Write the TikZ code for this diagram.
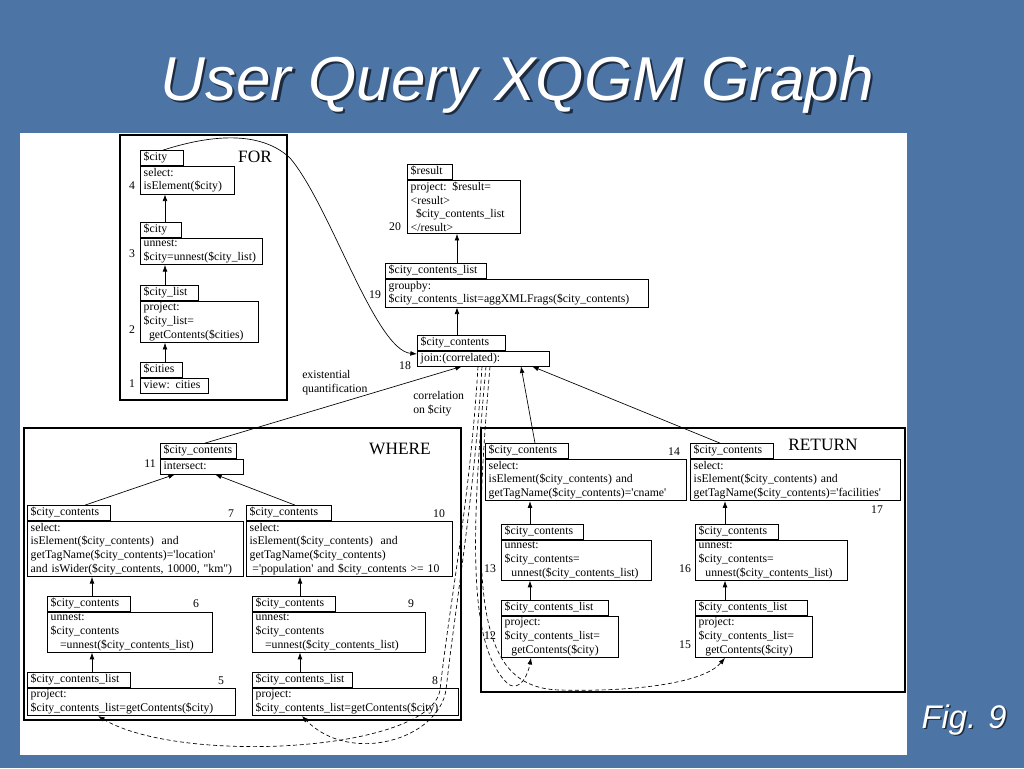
\documentclass[tikz,border=0pt]{standalone}
\usepackage{fontspec}
\setmainfont{Liberation Serif}
\newfontfamily\slidefont{Liberation Sans}
\usetikzlibrary{arrows.meta, positioning, calc}
\definecolor{SlideBlue}{HTML}{4C74A4}
\definecolor{TitleShadow}{HTML}{1C2B40}
\tikzset{
  % Box styles
  opbody/.style={rectangle, draw, line width=0.6pt, anchor=north west, align=left, inner xsep=2.5pt, inner ysep=1.2pt, font=\fontsize{8.8}{10.3}\selectfont},
  optab/.style={rectangle, draw, line width=0.6pt, align=left, inner xsep=2.5pt, inner ysep=1.4pt, text height=6.3pt, text depth=2.2pt, font=\fontsize{8.8}{10.3}\selectfont},
  oneline/.style={text height=6.3pt, text depth=2.2pt},
  framebox/.style={draw, line width=1.4pt},
  % Text styles
  num/.style={inner sep=0pt, font=\fontsize{8.8}{10.3}\selectfont},
  clause/.style={inner sep=0pt, font=\fontsize{13}{15}\selectfont},
  note/.style={inner sep=0pt, anchor=west, align=left, font=\fontsize{8.8}{10.3}\selectfont},
  % Arrow styles
  arr/.style={-{Latex[length=5pt,width=3.6pt]}, line width=0.5pt},
  corr/.style={arr, dashed, dash pattern=on 3pt off 2pt}
}

\begin{document}
\begin{tikzpicture}[x=0.75pt, y=-0.75pt]
  \useasboundingbox (0,0) rectangle (1024,768);
  \fill[SlideBlue] (0,0) rectangle (1024,768);
  \fill[white] (20,133) rectangle (907,755);

  % Title
  \node[anchor=base, text=TitleShadow, font=\slidefont\itshape\fontsize{46.5}{50}\selectfont] (titleshadow) at (519.5,102.5) {User Query XQGM Graph};
  \node[anchor=base, text=white, font=\slidefont\itshape\fontsize{46.5}{50}\selectfont] (title) at (517,100) {User Query XQGM Graph};
  \node[anchor=base west, text=TitleShadow, font=\slidefont\itshape\fontsize{24.5}{28}\selectfont] (figshadow) at (918.5,729.5) {Fig. 9};
  \node[anchor=base west, text=white, font=\slidefont\itshape\fontsize{24.5}{28}\selectfont] (fig) at (917,728) {Fig. 9};

  % Clause frames
  \draw[framebox] (120,135) rectangle (287,400);
  \draw[framebox] (24,428) rectangle (461,720);
  \draw[framebox] (481,428) rectangle (905,692);
  \node[clause] (for) at (255,157) {FOR};
  \node[clause] (where) at (400,449) {WHERE};
  \node[clause] (return) at (823,445) {RETURN};

  % FOR boxes
  \node[opbody, text width=65.5pt] (b4) at (140,166) {select:\\isElement(\$city)};
  \node[optab, text width=27.25pt, above right=0pt of b4.north west] (t4) {\$city};
  \node[opbody, text width=86.5pt] (b3) at (140,238) {unnest:\\\$city=unnest(\$city\_list)};
  \node[optab, text width=25.75pt, above right=0pt of b3.north west] (t3) {\$city};
  \node[opbody, text width=83.5pt] (b2) at (140,301) {project:\\\$city\_list=\\\hspace*{4pt}getContents(\$cities)};
  \node[optab, text width=38.5pt, above right=0pt of b2.north west] (t2) {\$city\_list};
  \node[opbody, oneline, text width=46pt] (b1) at (140,378) {view: cities};
  \node[optab, text width=26.5pt, above right=0pt of b1.north west] (t1) {\$cities};

  % Top boxes
  \node[opbody, text width=79.75pt] (b20) at (407,180) {project: \$result=\\<result>\\\hspace*{4pt}\$city\_contents\_list\\</result>};
  \node[optab, text width=28.75pt, above right=0pt of b20.north west] (t20) {\$result};
  \node[opbody, text width=192.25pt] (b19) at (385,279) {groupby:\\\$city\_contents\_list=aggXMLFrags(\$city\_contents)};
  \node[optab, text width=70.75pt, above right=0pt of b19.north west] (t19) {\$city\_contents\_list};
  \node[opbody, oneline, text width=94pt] (b18) at (417,351) {join:(correlated):};
  \node[optab, text width=61pt, above right=0pt of b18.north west] (t18) {\$city\_contents};

  % WHERE boxes
  \node[opbody, oneline, text width=57.25pt] (b11) at (160,459) {intersect:};
  \node[optab, text width=52pt, above right=0pt of b11.north west] (t11) {\$city\_contents};
  \node[opbody, text width=157pt] (b7) at (27,521) {select:\\isElement(\$city\_contents)~ and\\getTagName(\$city\_contents)=\textquotesingle location\textquotesingle\\and isWider(\$city\_contents, 10000, \textquotedbl km\textquotedbl)};
  \node[optab, text width=57.25pt, above right=0pt of b7.north west] (t7) {\$city\_contents};
  \node[opbody, text width=118.75pt] (b6) at (47,612) {unnest:\\\$city\_contents\\\hspace*{7pt}=unnest(\$city\_contents\_list)};
  \node[optab, text width=57.25pt, above right=0pt of b6.north west] (t6) {\$city\_contents};
  \node[opbody, text width=151pt] (b5) at (27,688) {project:\\\$city\_contents\_list=getContents(\$city)};
  \node[optab, text width=72.25pt, above right=0pt of b5.north west] (t5) {\$city\_contents\_list};
  \node[opbody, text width=149.5pt] (b10) at (246,521) {select:\\isElement(\$city\_contents)~ and\\getTagName(\$city\_contents)\\\hspace*{2pt}=\textquotesingle population\textquotesingle{} and \$city\_contents >= 10};
  \node[optab, text width=58.75pt, above right=0pt of b10.north west] (t10) {\$city\_contents};
  \node[opbody, text width=124.75pt] (b9) at (252,612) {unnest:\\\$city\_contents\\\hspace*{7pt}=unnest(\$city\_contents\_list)};
  \node[optab, text width=57.25pt, above right=0pt of b9.north west] (t9) {\$city\_contents};
  \node[opbody, text width=149.5pt] (b8) at (252,688) {project:\\\$city\_contents\_list=getContents(\$city)};
  \node[optab, text width=70pt, above right=0pt of b8.north west] (t8) {\$city\_contents\_list};

  % RETURN boxes
  \node[opbody, text width=145.75pt] (b14) at (485,459) {select:\\isElement(\$city\_contents) and\\getTagName(\$city\_contents)=\textquotesingle cname\textquotesingle};
  \node[optab, text width=57.25pt, above right=0pt of b14.north west] (t14) {\$city\_contents};
  \node[opbody, text width=107.5pt] (b13) at (501,540) {unnest:\\\$city\_contents=\\\hspace*{5pt}unnest(\$city\_contents\_list)};
  \node[optab, text width=56.5pt, above right=0pt of b13.north west] (t13) {\$city\_contents};
  \node[opbody, text width=82.75pt] (b12) at (501,616) {project:\\\$city\_contents\_list=\\\hspace*{5pt}getContents(\$city)};
  \node[optab, text width=75.25pt, above right=0pt of b12.north west] (t12) {\$city\_contents\_list};
  \node[opbody, text width=152.5pt] (b17) at (690,459) {select:\\isElement(\$city\_contents) and\\getTagName(\$city\_contents)=\textquotesingle facilities\textquotesingle};
  \node[optab, text width=57.25pt, above right=0pt of b17.north west] (t17) {\$city\_contents};
  \node[opbody, text width=109pt] (b16) at (695,540) {unnest:\\\$city\_contents=\\\hspace*{5pt}unnest(\$city\_contents\_list)};
  \node[optab, text width=57.25pt, above right=0pt of b16.north west] (t16) {\$city\_contents};
  \node[opbody, text width=82.75pt] (b15) at (695,616) {project:\\\$city\_contents\_list=\\\hspace*{5pt}getContents(\$city)};
  \node[optab, text width=79pt, above right=0pt of b15.north west] (t15) {\$city\_contents\_list};

  % Box numbers
  \node[num] (n1) at (132,384) {1};
  \node[num] (n2) at (132,330) {2};
  \node[num] (n3) at (132,254) {3};
  \node[num] (n4) at (132,186) {4};
  \node[num] (n5) at (221,681) {5};
  \node[num] (n6) at (196,604) {6};
  \node[num] (n7) at (231,514) {7};
  \node[num] (n8) at (435,681) {8};
  \node[num] (n9) at (411,604) {9};
  \node[num] (n10) at (439,514) {10};
  \node[num] (n11) at (150,464) {11};
  \node[num] (n12) at (490,636) {12};
  \node[num] (n13) at (490,569) {13};
  \node[num] (n14) at (674,452) {14};
  \node[num] (n15) at (685,645) {15};
  \node[num] (n16) at (685,569) {16};
  \node[num] (n17) at (877,510) {17};
  \node[num] (n18) at (405,366) {18};
  \node[num] (n19) at (375,295) {19};
  \node[num] (n20) at (395,227) {20};

  % Edge notes
  \node[note] (exq) at (302,383) {existential\\quantification};
  \node[note] (cor) at (413,404) {correlation\\on \$city};

  % Arrows inside the frames
  \draw[arr] ([xshift=18.75pt]t1.north west) -- ([xshift=18.75pt]t1.north west |- b2.south);
  \draw[arr] ([xshift=18.75pt]t2.north west) -- ([xshift=18.75pt]t2.north west |- b3.south);
  \draw[arr] ([xshift=18.75pt]t3.north west) -- ([xshift=18.75pt]t3.north west |- b4.south);
  \draw[arr] ([xshift=33.75pt]b6.south west |- t5.north) -- ([xshift=33.75pt]b6.south west);
  \draw[arr] ([xshift=33.75pt]t6.north west) -- ([xshift=33.75pt]t6.north west |- b7.south);
  \draw[arr] ([xshift=36pt]b9.south west |- t8.north) -- ([xshift=36pt]b9.south west);
  \draw[arr] ([xshift=36pt]t9.north west) -- ([xshift=36pt]t9.north west |- b10.south);
  \draw[arr] ([xshift=43.5pt]t7.north west) -- ([xshift=11.25pt]b11.south west);
  \draw[arr] ([xshift=36.75pt]t10.north west) -- ([xshift=41.25pt]b11.south west);
  \draw[arr] ([xshift=21.75pt]t12.north west) -- ([xshift=21.75pt]t12.north west |- b13.south);
  \draw[arr] ([xshift=21.75pt]t13.north west) -- ([xshift=21.75pt]t13.north west |- b14.south);
  \draw[arr] ([xshift=22.5pt]t15.north west) -- ([xshift=22.5pt]t15.north west |- b16.south);
  \draw[arr] ([xshift=22.5pt]t16.north west) -- ([xshift=22.5pt]t16.north west |- b17.south);

  % Arrows to the join and up to the result
  \draw[arr] ([xshift=33.75pt]t11.north west) -- ([xshift=33.75pt]b18.south west);
  \draw[arr] ([xshift=37.5pt]t14.north west) -- ([xshift=78pt]b18.south west);
  \draw[arr] ([xshift=22.5pt]t17.north west) -- ([xshift=86.25pt]b18.south west);
  \draw[arr] ([xshift=30pt]t18.north west) -- ([xshift=30pt]t18.north west |- b19.south);
  \draw[arr] ([xshift=37.5pt]b20.south west |- t19.north) -- ([xshift=37.5pt]b20.south west);
  \draw[arr] ([xshift=17.25pt]t4.north west) .. controls (210,135) and (260,130) .. (290,158)
    .. controls (330,205) and (375,350) .. ([yshift=-2.25pt]b18.north west);

  % Correlation on $city
  \draw[corr] ([xshift=45.75pt]b18.south west) .. controls (470,500) and (450,600) .. (440,690)
    .. controls (430,752) and (180,765) .. ([xshift=53.25pt]b5.south west);
  \draw[corr] ([xshift=48.75pt]b18.south west) .. controls (474,500) and (456,600) .. (446,690)
    .. controls (438,740) and (350,765) .. ([xshift=37.5pt]b8.south west);
  \draw[corr] ([xshift=51.75pt]b18.south west) .. controls (468,560) and (472,650) .. (508,684)
    .. controls (520,692) and (528,675) .. ([xshift=22.5pt]b12.south west);
  \draw[corr] ([xshift=54.75pt]b18.south west) .. controls (470,600) and (478,688) .. (560,690)
    .. controls (640,692) and (705,682) .. ([xshift=22.5pt]b15.south west);
\end{tikzpicture}
\end{document}
